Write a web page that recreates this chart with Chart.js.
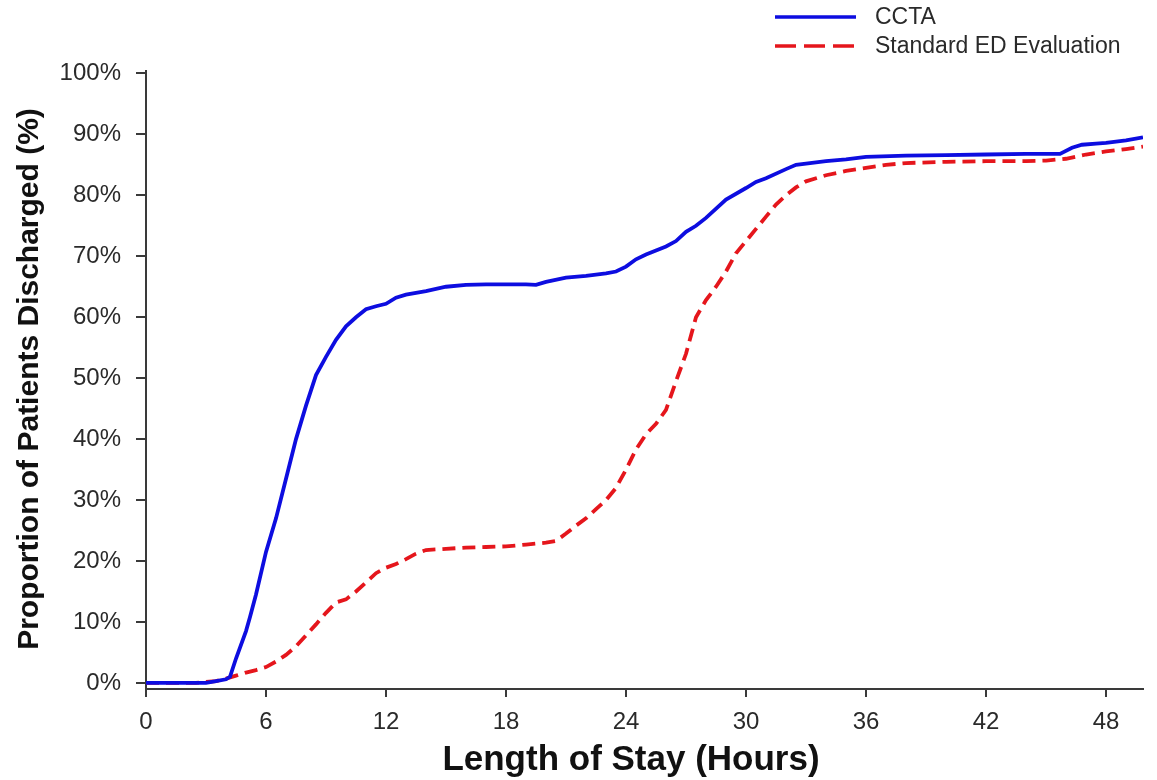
<!DOCTYPE html>
<html>
<head>
<meta charset="utf-8">
<script src="https://cdn.jsdelivr.net/npm/chart.js@4.4.1/dist/chart.umd.min.js"></script>
<style>
  html, body { margin: 0; padding: 0; background: #ffffff; }
  #wrap { width: 1157px; height: 780px; position: relative; }
</style>
</head>
<body>
<div id="wrap"><canvas id="c"></canvas></div>
<script>
// ---- data ----
const seriesNames = ['CCTA', 'Standard ED Evaluation'];
const xTickValues = [0, 6, 12, 18, 24, 30, 36, 42, 48];
const yTickValues = [0, 10, 20, 30, 40, 50, 60, 70, 80, 90, 100];
const xTitle = 'Length of Stay (Hours)';
const yTitle = 'Proportion of Patients Discharged (%)';

const cctaHours = [0, 3, 3.5, 4, 4.2, 4.5, 5, 5.2, 5.5, 6, 6.5, 7, 7.5, 8, 8.5, 9, 9.5, 10, 10.5, 11, 11.5, 12, 12.5, 13, 14, 15, 16, 17, 18, 19, 19.5, 20, 21, 22, 23, 23.5, 24, 24.5, 25, 26, 26.5, 27, 27.5, 28, 29, 30, 30.5, 31, 32, 32.5, 33, 34, 35, 36, 38, 40, 42, 44, 45.7, 46.3, 46.8, 47.5, 48, 48.5, 49, 49.85];
const cctaValues = [0, 0, 0.3, 0.6, 1, 4, 8.5, 10.8, 14.5, 21.5, 27, 33.5, 40, 45.5, 50.5, 53.5, 56.3, 58.5, 60, 61.3, 61.8, 62.2, 63.2, 63.7, 64.3, 65, 65.3, 65.4, 65.4, 65.4, 65.3, 65.8, 66.5, 66.8, 67.2, 67.5, 68.3, 69.5, 70.3, 71.6, 72.5, 74, 75, 76.3, 79.3, 81.2, 82.2, 82.8, 84.3, 85, 85.2, 85.6, 85.9, 86.3, 86.5, 86.6, 86.7, 86.8, 86.8, 87.8, 88.3, 88.5, 88.6, 88.8, 89, 89.5];

const edHours = [0, 2.5, 3.5, 4, 4.5, 5, 5.5, 6, 6.5, 7, 7.5, 8, 8.5, 9, 9.5, 10, 10.5, 11, 11.5, 12, 12.5, 13, 13.5, 14, 15, 16, 17, 18, 19, 20, 20.5, 21, 21.5, 22, 22.5, 23, 23.5, 24, 24.5, 25, 25.5, 26, 26.5, 27, 27.5, 28, 28.5, 29, 29.5, 30, 30.5, 31, 31.5, 32, 32.5, 33, 34, 35, 36, 37, 38, 40, 42, 44, 45, 46, 47, 48, 49, 49.85];
const edValues = [0, 0, 0.3, 0.7, 1.2, 1.7, 2.1, 2.6, 3.5, 4.6, 6, 7.8, 9.6, 11.5, 13.2, 13.7, 15, 16.5, 18, 18.9, 19.5, 20.3, 21.2, 21.8, 22, 22.2, 22.3, 22.4, 22.7, 23, 23.3, 24.5, 25.8, 27, 28.5, 30, 32, 35, 38.3, 40.8, 42.5, 44.8, 49.5, 54, 60, 62.8, 65, 67.5, 70.5, 72.5, 74.5, 76.5, 78.5, 80, 81.3, 82.3, 83.3, 84, 84.5, 85, 85.3, 85.5, 85.6, 85.6, 85.7, 86, 86.7, 87.2, 87.6, 88];

// ---- styles ----
const BLUE = '#0d0de0';
const RED = '#e5161c';
const RED_DASH = [13, 7];
const LEGEND_DASH = [21, 8];
const TEXT = '#2a2a2a';
const AXIS = '#3a3a3a';
const FONT = '"Liberation Sans", Arial, sans-serif';

const toPts = (xs, ys) => xs.map((x, i) => ({ x: x, y: ys[i] }));

const decorPlugin = {
  id: 'decor',
  afterDraw(chart) {
    const ctx = chart.ctx;
    ctx.save();
    // legend
    const items = [
      { name: seriesNames[0], color: BLUE, dash: [], y: 17 },
      { name: seriesNames[1], color: RED, dash: LEGEND_DASH, y: 46 }
    ];
    items.forEach(it => {
      ctx.beginPath();
      ctx.setLineDash(it.dash);
      ctx.strokeStyle = it.color;
      ctx.lineWidth = 3.5;
      ctx.moveTo(775, it.y);
      ctx.lineTo(856, it.y);
      ctx.stroke();
      ctx.setLineDash([]);
      ctx.fillStyle = TEXT;
      ctx.font = '23px ' + FONT;
      ctx.textAlign = 'left';
      ctx.textBaseline = 'middle';
      ctx.fillText(it.name, 875, it.y + 1);
    });
    // x title
    ctx.fillStyle = '#111';
    ctx.font = 'bold 35px ' + FONT;
    ctx.textAlign = 'center';
    ctx.textBaseline = 'middle';
    ctx.fillText(xTitle, 631, 760);
    // y title
    ctx.translate(30, 379);
    ctx.rotate(-Math.PI / 2);
    ctx.font = 'bold 30px ' + FONT;
    ctx.fillText(yTitle, 0, 0);
    ctx.restore();
  }
};

new Chart(document.getElementById('c'), {
  type: 'line',
  data: {
    datasets: [
      {
        label: seriesNames[0],
        data: toPts(cctaHours, cctaValues),
        borderColor: BLUE,
        backgroundColor: BLUE,
        borderWidth: 3.8,
        pointRadius: 0,
        tension: 0,
        fill: false
      },
      {
        label: seriesNames[1],
        data: toPts(edHours, edValues),
        borderColor: RED,
        backgroundColor: RED,
        borderWidth: 3.8,
        borderDash: RED_DASH,
        pointRadius: 0,
        tension: 0,
        fill: false
      }
    ]
  },
  options: {
    responsive: true,
    maintainAspectRatio: false,
    animation: false,
    layout: { padding: { top: 71, right: 14, bottom: 0, left: 0 } },
    plugins: {
      legend: { display: false },
      tooltip: { enabled: false },
      title: { display: false }
    },
    scales: {
      x: {
        type: 'linear',
        min: 0,
        max: 49.85,
        afterBuildTicks: s => { s.ticks = xTickValues.map(v => ({ value: v })); },
        afterFit: s => { s.height = 91; },
        grid: { drawOnChartArea: false, drawTicks: true, tickLength: 8, color: AXIS, lineWidth: 2 },
        border: { display: true, color: AXIS, width: 2 },
        ticks: {
          autoSkip: false, maxRotation: 0, padding: 11,
          color: TEXT,
          font: { family: FONT, size: 24 }
        }
      },
      y: {
        type: 'linear',
        min: -1,
        max: 100.4,
        afterBuildTicks: s => { s.ticks = yTickValues.map(v => ({ value: v })); },
        afterFit: s => { s.width = 146; },
        grid: { drawOnChartArea: false, drawTicks: true, tickLength: 10, color: AXIS, lineWidth: 2 },
        border: { display: true, color: AXIS, width: 2 },
        ticks: {
          padding: 15,
          color: TEXT,
          font: { family: FONT, size: 24 },
          callback: v => v + '%'
        }
      }
    }
  },
  plugins: [decorPlugin]
});
</script>
</body>
</html>
